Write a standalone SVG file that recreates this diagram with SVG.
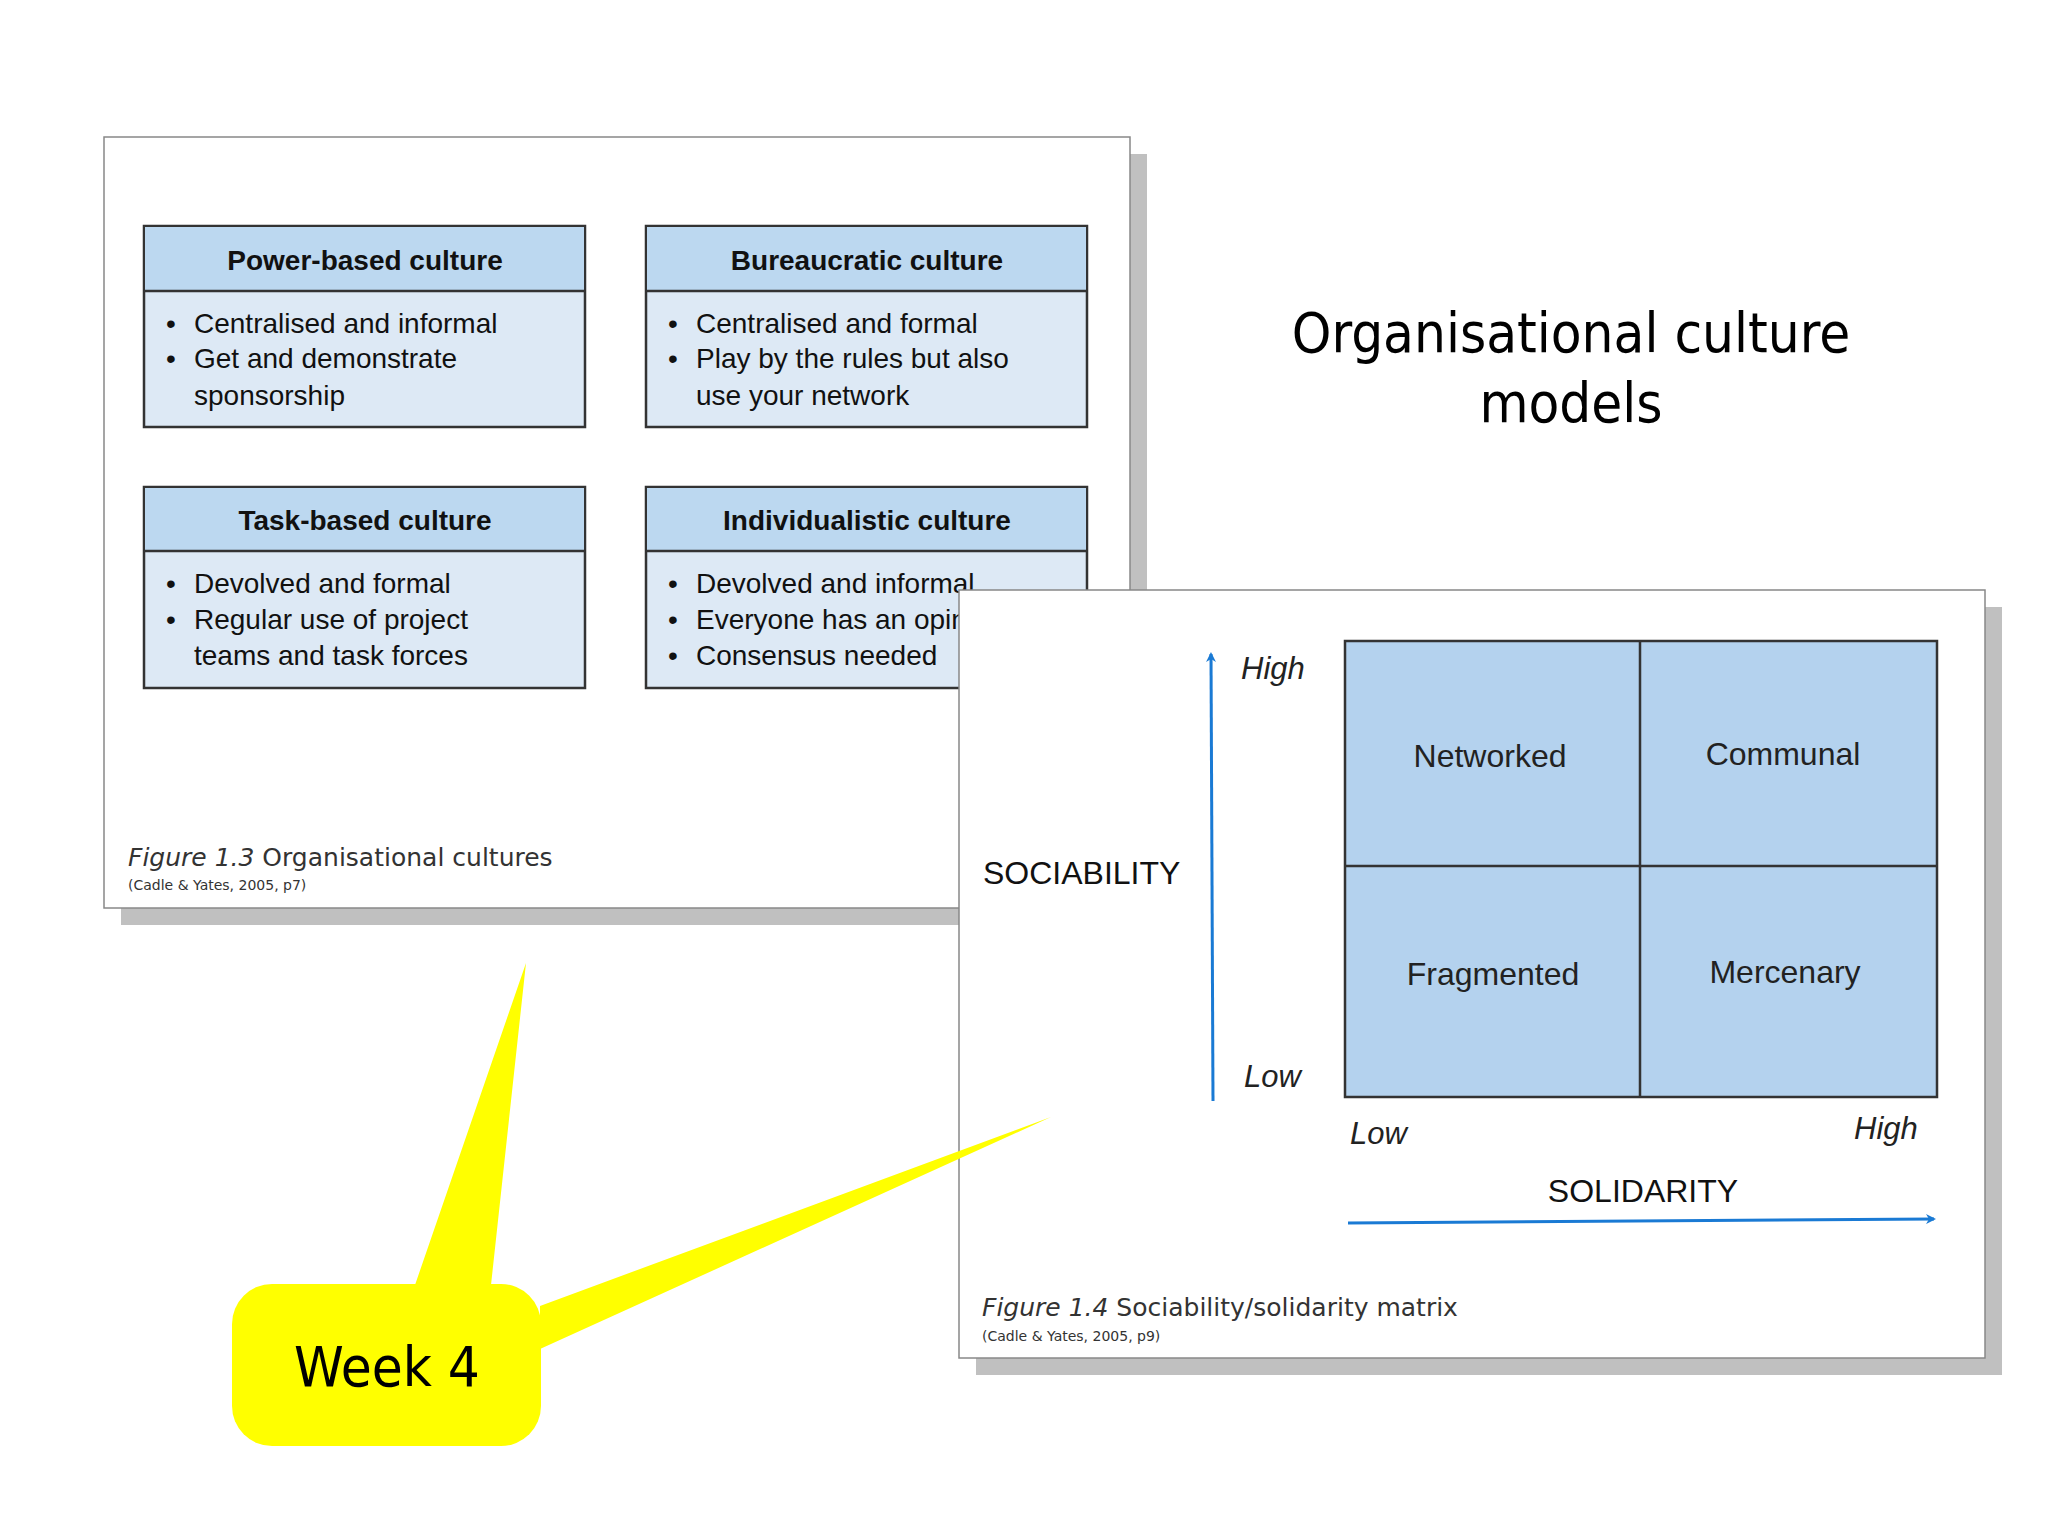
<svg xmlns="http://www.w3.org/2000/svg" width="2048" height="1536" viewBox="0 0 2048 1536">
<style>
.t{font-family:"Liberation Sans",Arial,sans-serif;fill:#111}
.h{font-size:28px;font-weight:bold;text-anchor:middle}
.b{font-size:28px}
.cap{font-family:"DejaVu Sans",sans-serif;font-size:25px;fill:#333}
.sm{font-family:"DejaVu Sans",sans-serif;font-size:14px;fill:#333}
.q{font-size:32px;text-anchor:middle;fill:#222}
.ax{font-size:31px;font-style:italic;fill:#222}
.box{fill:#dde9f5;stroke:#333;stroke-width:2.5}
.hd{fill:#bcd8f0}
</style>
<defs>
<marker id="ar" markerWidth="10" markerHeight="10" refX="8" refY="5" orient="auto" markerUnits="userSpaceOnUse" viewBox="0 0 10 10"><path d="M0,0L10,5L0,10L3,5z" fill="#1a7ad4"/></marker>
</defs>
<rect width="2048" height="1536" fill="#fff"/>
<g id="title"><text x="1571" y="352" font-family="DejaVu Sans Condensed,DejaVu Sans,sans-serif" font-size="56" text-anchor="middle" fill="#000">Organisational culture</text><text x="1571" y="422" font-family="DejaVu Sans Condensed,DejaVu Sans,sans-serif" font-size="56" text-anchor="middle" fill="#000">models</text></g>
<g id="panel1">
<rect x="121" y="154" width="1026" height="771" fill="#c0c0c0"/>
<rect x="104" y="137" width="1026" height="771" fill="#fff" stroke="#888" stroke-width="1.5"/>
<g id="power"><rect class="box" x="144" y="226" width="441" height="201"/><rect class="hd" x="145" y="227" width="439" height="64"/><line x1="144" y1="291" x2="585" y2="291" stroke="#333" stroke-width="2.5"/>
<text class="t h" x="365" y="270">Power-based culture</text>
<text class="t b" x="166" y="333">•</text><text class="t b" x="194" y="333">Centralised and informal</text>
<text class="t b" x="166" y="368">•</text><text class="t b" x="194" y="368">Get and demonstrate</text>
<text class="t b" x="194" y="405">sponsorship</text></g>
<g id="bureau"><rect class="box" x="646" y="226" width="441" height="201"/><rect class="hd" x="647" y="227" width="439" height="64"/><line x1="646" y1="291" x2="1087" y2="291" stroke="#333" stroke-width="2.5"/>
<text class="t h" x="867" y="270">Bureaucratic culture</text>
<text class="t b" x="668" y="333">•</text><text class="t b" x="696" y="333">Centralised and formal</text>
<text class="t b" x="668" y="368">•</text><text class="t b" x="696" y="368">Play by the rules but also</text>
<text class="t b" x="696" y="405">use your network</text></g>
<g id="task"><rect class="box" x="144" y="487" width="441" height="201"/><rect class="hd" x="145" y="488" width="439" height="63"/><line x1="144" y1="551" x2="585" y2="551" stroke="#333" stroke-width="2.5"/>
<text class="t h" x="365" y="530">Task-based culture</text>
<text class="t b" x="166" y="593">•</text><text class="t b" x="194" y="593">Devolved and formal</text>
<text class="t b" x="166" y="629">•</text><text class="t b" x="194" y="629">Regular use of project</text>
<text class="t b" x="194" y="665">teams and task forces</text></g>
<g id="indiv"><rect class="box" x="646" y="487" width="441" height="201"/><rect class="hd" x="647" y="488" width="439" height="63"/><line x1="646" y1="551" x2="1087" y2="551" stroke="#333" stroke-width="2.5"/>
<text class="t h" x="867" y="530">Individualistic culture</text>
<text class="t b" x="668" y="593">•</text><text class="t b" x="696" y="593">Devolved and informal</text>
<text class="t b" x="668" y="629">•</text><text class="t b" x="696" y="629">Everyone has an opinion</text>
<text class="t b" x="668" y="665">•</text><text class="t b" x="696" y="665">Consensus needed</text></g>
<text class="cap" x="128" y="866"><tspan font-style="italic">Figure 1.3</tspan> Organisational cultures</text>
<text class="sm" x="128" y="890">(Cadle &amp; Yates, 2005, p7)</text>
</g>
<g id="panel2">
<rect x="976" y="607" width="1026" height="768" fill="#c0c0c0"/>
<rect x="959" y="590" width="1026" height="768" fill="#fff" stroke="#888" stroke-width="1.5"/>
<g id="matrix"><rect x="1345" y="641" width="592" height="456" fill="#b4d2ee" stroke="#333" stroke-width="2.5"/>
<line x1="1640" y1="641" x2="1640" y2="1097" stroke="#333" stroke-width="2.5"/>
<line x1="1345" y1="866" x2="1937" y2="866" stroke="#333" stroke-width="2.5"/>
<text class="t q" x="1490" y="767">Networked</text><text class="t q" x="1783" y="765">Communal</text>
<text class="t q" x="1493" y="985">Fragmented</text><text class="t q" x="1785" y="983">Mercenary</text></g>
<g id="connectors">
<line x1="1213" y1="1101" x2="1211" y2="654" stroke="#1a7ad4" stroke-width="3" marker-end="url(#ar)"/>
<line x1="1348" y1="1223" x2="1934" y2="1219" stroke="#1a7ad4" stroke-width="3" marker-end="url(#ar)"/>
</g>
<text class="t ax" x="1241" y="679">High</text><text class="t ax" x="1244" y="1087">Low</text>
<text class="t" x="983" y="884" font-size="32">SOCIABILITY</text>
<text class="t ax" x="1350" y="1144">Low</text><text class="t ax" x="1854" y="1139">High</text>
<text class="t" x="1643" y="1202" font-size="32" text-anchor="middle">SOLIDARITY</text>
<text class="cap" x="982" y="1316"><tspan font-style="italic">Figure 1.4</tspan> Sociability/solidarity matrix</text>
<text class="sm" x="982" y="1341">(Cadle &amp; Yates, 2005, p9)</text>
</g>
<g id="callout">
<path d="M415,1285L526,963L491,1285ZM540,1306L1051,1117L540,1349Z" fill="#ffff00"/>
<rect x="232" y="1284" width="309" height="162" rx="40" fill="#ffff00"/>
<text x="387" y="1386" font-family="DejaVu Sans Condensed,DejaVu Sans,sans-serif" font-size="56" text-anchor="middle" fill="#000">Week 4</text>
</g>
</svg>
